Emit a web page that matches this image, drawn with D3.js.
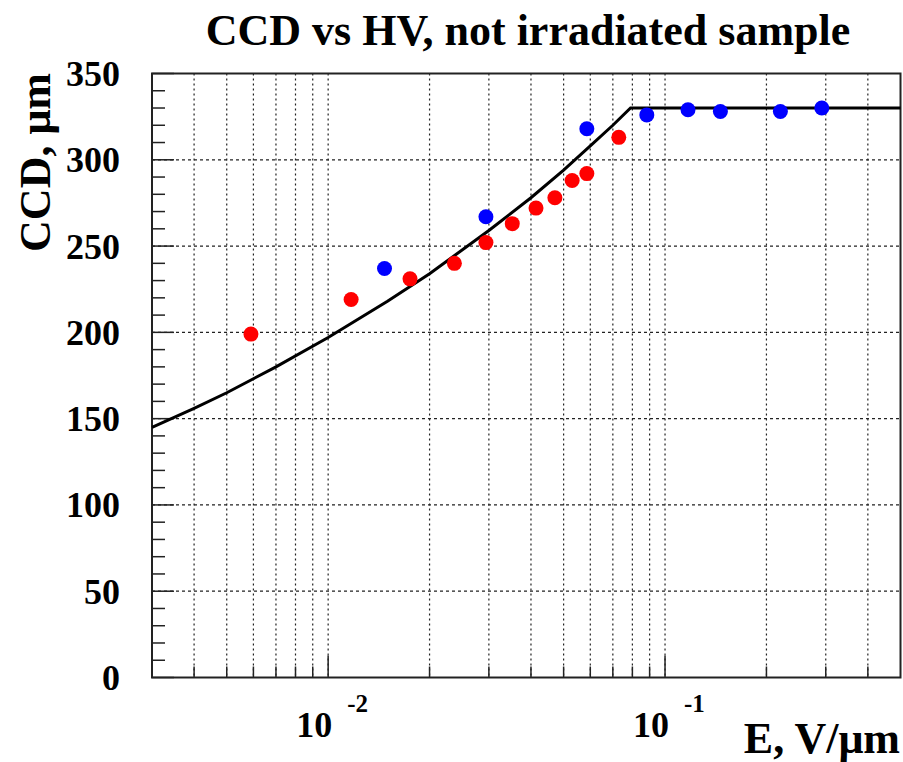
<!DOCTYPE html>
<html>
<head>
<meta charset="utf-8">
<script src="https://cdn.jsdelivr.net/npm/d3@7"></script>
<style>
  body { margin: 0; background: #fff; }
  text { font-family: "Liberation Serif", "Times New Roman", serif; font-weight: bold; }
</style>
</head>
<body>
<script>
// data
var redE   = [0.0059, 0.0117, 0.0175, 0.0237, 0.0294, 0.0352, 0.0414, 0.0471, 0.053, 0.0586, 0.0729];
var redCCD = [199, 219, 231, 240, 252, 263, 272, 278, 288, 292, 313];
var blueE   = [0.0147, 0.0294, 0.0586, 0.0883, 0.117, 0.146, 0.22, 0.292];
var blueCCD = [237, 267, 318, 326, 329, 328, 328, 330];
var fitE   = [0.003, 0.004, 0.005, 0.007, 0.01, 0.015, 0.02, 0.03, 0.04, 0.05, 0.06, 0.07, 0.079, 0.5];
var fitCCD = [145, 156, 165, 180, 197, 218, 234, 259, 278, 294, 308, 320, 330, 330];
var yTicks = [0, 50, 100, 150, 200, 250, 300, 350];
var xMajor = [0.01, 0.1];
var xLabelExp = ["-2", "-1"];

var width = 903, height = 762;
var margin = {top: 73.5, right: 2.5, bottom: 84.5, left: 152};
var graphWidth = width - margin.left - margin.right;
var graphHeight = height - margin.top - margin.bottom;

var svg = d3.select('body').append('svg')
    .attr("width", width)
    .attr("height", height);

svg.append("rect").attr("width", width).attr("height", height).attr("fill", "#fff");

var graph = svg.append('g')
    .attr("transform", "translate(" + margin.left + "," + margin.top + ")");

var x = d3.scaleLog()
    .domain([0.003, 0.5])
    .range([0, graphWidth]);

var y = d3.scaleLinear()
    .domain([0, 350])
    .range([graphHeight, 0]);

// minor x ticks 0.004..0.4
var xMinor = [];
[0.001, 0.01, 0.1].forEach(function(dec){
    for (var k = 1; k <= 9; k++) {
        var v = +(dec * k).toPrecision(3);
        if (v > 0.003 && v < 0.5) xMinor.push(v);
    }
});
var yMinor = d3.range(0, 351, 10);

// grid
graph.append("g").selectAll("line")
    .data(xMinor)
    .enter().append("line")
    .attr("x1", d => x(d)).attr("x2", d => x(d))
    .attr("y1", 0).attr("y2", graphHeight)
    .attr("stroke", "#222")
    .attr("stroke-width", 1.2)
    .attr("stroke-dasharray", "2,3");

graph.append("g").selectAll("line")
    .data(yTicks.filter(d => d > 0 && d < 350))
    .enter().append("line")
    .attr("x1", 0).attr("x2", graphWidth)
    .attr("y1", d => y(d)).attr("y2", d => y(d))
    .attr("stroke", "#222")
    .attr("stroke-width", 1.2)
    .attr("stroke-dasharray", "3,3");

// ticks on the y axis
graph.append("g").selectAll("line")
    .data(yMinor)
    .enter().append("line")
    .attr("x1", 0)
    .attr("x2", d => d % 50 == 0 ? 22 : 13)
    .attr("y1", d => y(d)).attr("y2", d => y(d))
    .attr("stroke", "#222")
    .attr("stroke-width", 1.5);

// ticks on the x axis
graph.append("g").selectAll("line")
    .data(xMinor)
    .enter().append("line")
    .attr("x1", d => x(d)).attr("x2", d => x(d))
    .attr("y1", graphHeight)
    .attr("y2", d => xMajor.indexOf(d) >= 0 ? graphHeight - 22 : graphHeight - 11)
    .attr("stroke", "#222")
    .attr("stroke-width", 1.5);

// frame
graph.append("rect")
    .attr("width", graphWidth)
    .attr("height", graphHeight)
    .attr("fill", "none")
    .attr("stroke", "#222")
    .attr("stroke-width", 2);

// y tick labels
graph.append("g").selectAll("text")
    .data(yTicks)
    .enter().append("text")
    .attr("x", -32)
    .attr("y", d => y(d) + 12.5)
    .attr("text-anchor", "end")
    .attr("font-size", "36px")
    .text(d => d);

// x tick labels 10^-n
var xl = graph.append("g").selectAll("g")
    .data(xMajor)
    .enter().append("g");
xl.append("text")
    .attr("x", d => x(d) + 4)
    .attr("y", graphHeight + 59)
    .attr("text-anchor", "end")
    .attr("font-size", "36px")
    .text("10");
xl.append("text")
    .attr("x", d => x(d) + 19)
    .attr("y", graphHeight + 34)
    .attr("font-size", "25px")
    .text((d, i) => xLabelExp[i]);

// fit curve
var line = d3.line()
    .x((d, i) => x(fitE[i]))
    .y((d, i) => y(fitCCD[i]));
graph.append("path")
    .datum(fitE)
    .attr("d", line)
    .attr("fill", "none")
    .attr("stroke", "#000")
    .attr("stroke-width", 3);

// points
graph.append("g").selectAll("circle")
    .data(redE)
    .enter().append("circle")
    .attr("cx", d => x(d))
    .attr("cy", (d, i) => y(redCCD[i]))
    .attr("r", 7.5)
    .attr("fill", "#ff0000");

graph.append("g").selectAll("circle")
    .data(blueE)
    .enter().append("circle")
    .attr("cx", d => x(d))
    .attr("cy", (d, i) => y(blueCCD[i]))
    .attr("r", 7.5)
    .attr("fill", "#0000ff");

// titles
svg.append("text")
    .attr("x", 528)
    .attr("y", 45)
    .attr("text-anchor", "middle")
    .attr("font-size", "44px")
    .text("CCD vs HV, not irradiated sample");

svg.append("text")
    .attr("transform", "translate(50,73)rotate(-90)")
    .attr("text-anchor", "end")
    .attr("font-size", "44px")
    .text("CCD, μm");

svg.append("text")
    .attr("x", 900)
    .attr("y", 753)
    .attr("text-anchor", "end")
    .attr("font-size", "44px")
    .text("E, V/μm");
</script>
</body>
</html>
